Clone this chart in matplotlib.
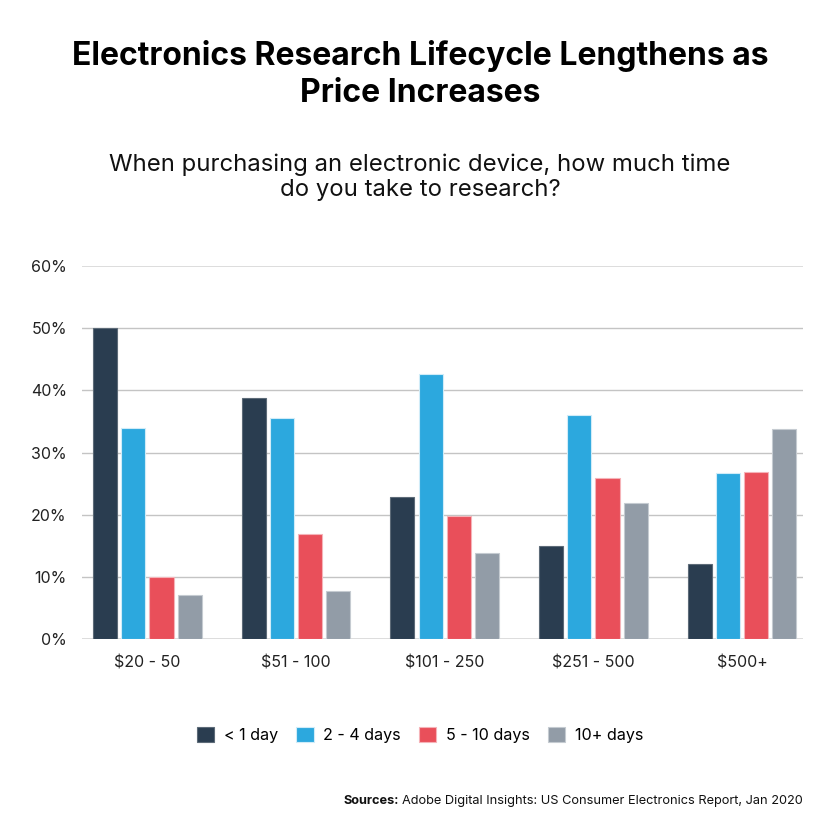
import matplotlib
matplotlib.use("Agg")
import matplotlib.pyplot as plt
import numpy as np

plt.rcParams["font.family"] = ["Inter", "DejaVu Sans"]

price_ranges = ["$20 - 50", "$51 - 100", "$101 - 250", "$251 - 500", "$500+"]
series_names = ["< 1 day", "2 - 4 days", "5 - 10 days", "10+ days"]
less_than_1_day = [50, 38.7, 22.8, 15, 12]
days_2_4 = [34, 35.6, 42.7, 36.1, 26.7]
days_5_10 = [10, 16.9, 19.8, 25.9, 26.9]
days_10_plus = [7, 7.7, 13.8, 21.9, 33.8]
y_ticks = [0, 10, 20, 30, 40, 50, 60]

colors = ["#2a3d50", "#2ca8de", "#e94f5a", "#929ca7"]
edges = ["#5d6b78", "#d0ecf8", "#f5b3b8", "#c5cbd1"]

fig = plt.figure(figsize=(8.4, 8.4), dpi=100)
ax = fig.add_axes([0.0976, 0.2393, 0.8583, 0.4440])

x = np.arange(len(price_ranges))
slot = 0.19
width = 0.162
all_series = [less_than_1_day, days_2_4, days_5_10, days_10_plus]
for i, (vals, name) in enumerate(zip(all_series, series_names)):
    ax.bar(x + (i - 1.5) * slot, vals, width=width, color=colors[i],
           edgecolor=edges[i], linewidth=0.8, label=name, zorder=3)

ax.set_xlim(-0.44, 4.41)
ax.set_ylim(0, 60)
ax.set_yticks(y_ticks)
ax.set_yticklabels([f"{t}%" for t in y_ticks])
ax.set_xticks(x)
ax.set_xticklabels(price_ranges)
ax.tick_params(axis="both", length=0, labelsize=11.5, colors="#222222")
ax.tick_params(axis="y", pad=11)
ax.tick_params(axis="x", pad=12)
for spine in ax.spines.values():
    spine.set_visible(False)
for t in y_ticks:
    c = "#dddddd" if t in (0, 60) else "#c4c4c4"
    ax.axhline(t, color=c, lw=1.4 if t in (0, 60) else 1.0, zorder=1)

fig.text(0.5, 0.911, "Electronics Research Lifecycle Lengthens as\nPrice Increases",
         ha="center", va="center", fontsize=23, weight="bold",
         linespacing=1.27, color="#000000")
fig.text(0.5, 0.789, "When purchasing an electronic device, how much time\ndo you take to research?",
         ha="center", va="center", fontsize=17.2, linespacing=1.12,
         color="#111111")

fig.legend(loc="center", bbox_to_anchor=(0.5, 0.125), ncol=4, frameon=False,
           fontsize=11.6, handlelength=1.1, handleheight=1.1,
           handletextpad=0.6, columnspacing=1.1)

src = fig.text(0.956, 0.047, "Adobe Digital Insights: US Consumer Electronics Report, Jan 2020",
               ha="right", va="center", fontsize=9.2, color="#111111")
fig.canvas.draw()
bb = src.get_window_extent().transformed(fig.transFigure.inverted())
fig.text(bb.x0 - 0.004, 0.047, "Sources:", ha="right", va="center",
         fontsize=9.2, weight="bold", color="#111111")

fig.savefig("out.png", dpi=100, facecolor="white")
